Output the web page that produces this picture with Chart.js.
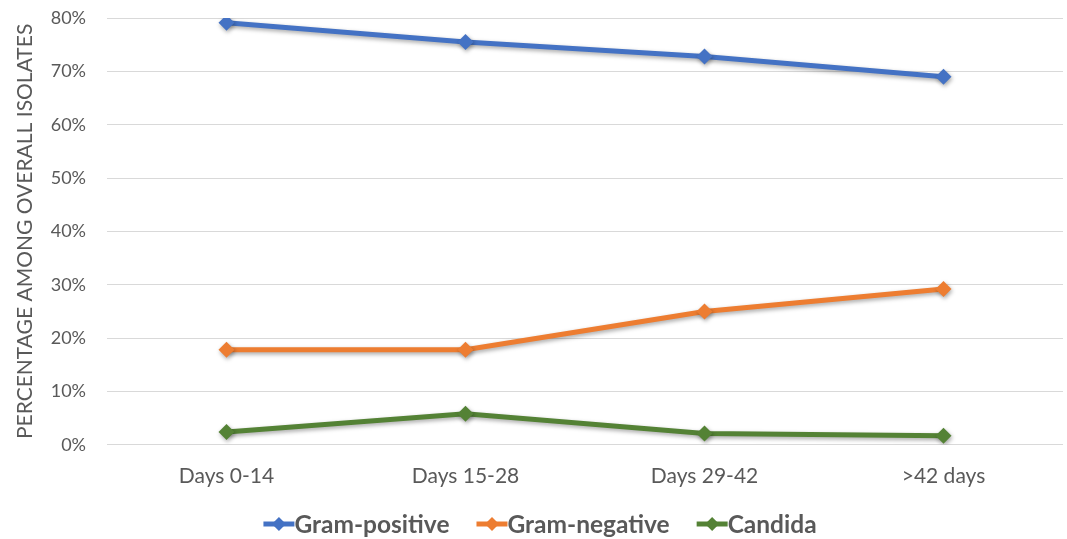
<!DOCTYPE html>
<html>
<head>
<meta charset="utf-8">
<script src="https://cdn.jsdelivr.net/npm/chart.js@4"></script>
<style>
  html, body { margin: 0; padding: 0; background: #fff; }
  canvas { display: block; }
</style>
</head>
<body>
<canvas id="chart" width="1067" height="539"></canvas>
<script>
const categories = ["Days 0-14", "Days 15-28", "Days 29-42", ">42 days"];
const gramPositive = [79.1, 75.5, 72.8, 69.0];
const gramNegative = [17.8, 17.8, 25.0, 29.2];
const candida = [2.4, 5.8, 2.1, 1.7];
const yTicks = [0, 10, 20, 30, 40, 50, 60, 70, 80];

const textColor = "#595959";
const font = "Lato, 'Open Sans', sans-serif";

/* soft shadow under the lines */
const shadowPlugin = {
    id: "shadow",
    beforeDatasetsDraw(chart) {
        const ctx = chart.ctx;
        ctx.save();
        ctx.shadowColor = "rgba(0,0,0,0.35)";
        ctx.shadowBlur = 4;
        ctx.shadowOffsetX = 1;
        ctx.shadowOffsetY = 2;
    },
    afterDatasetsDraw(chart) {
        chart.ctx.restore();
    }
};

/* legend like Excel: line+diamond glued to bold label */
const legendPlugin = {
    id: "excelLegend",
    afterDraw(chart) {
        const ctx = chart.ctx;
        const iconW = 31, gap = 27, cy = 524;
        ctx.save();
        ctx.font = "bold 24.5px " + font;
        ctx.textBaseline = "middle";
        const items = chart.data.datasets.map(ds => ({
            text: ds.label, color: ds.borderColor, w: ctx.measureText(ds.label).width
        }));
        const total = items.reduce((s, it) => s + iconW + it.w, 0) + gap * (items.length - 1);
        let x = 540 - total / 2;
        items.forEach(it => {
            ctx.strokeStyle = it.color;
            ctx.fillStyle = it.color;
            ctx.lineWidth = 5;
            ctx.beginPath(); ctx.moveTo(x, cy); ctx.lineTo(x + iconW, cy); ctx.stroke();
            const cx = x + iconW / 2;
            ctx.beginPath();
            ctx.moveTo(cx, cy - 7); ctx.lineTo(cx + 7, cy); ctx.lineTo(cx, cy + 7); ctx.lineTo(cx - 7, cy);
            ctx.closePath(); ctx.fill();
            ctx.fillStyle = textColor;
            ctx.fillText(it.text, x + iconW, cy + 1);
            x += iconW + it.w + gap;
        });
        ctx.restore();
    }
};

function series(label, data, color) {
    return {
        label: label,
        data: data,
        borderColor: color,
        backgroundColor: color,
        borderWidth: 5,
        pointStyle: "rectRot",
        pointRadius: 8,
        pointHoverRadius: 8,
        pointBorderWidth: 0,
        tension: 0
    };
}

new Chart(document.getElementById("chart"), {
    type: "line",
    data: {
        labels: categories,
        datasets: [
            series("Gram-positive", gramPositive, "#4472C4"),
            series("Gram-negative", gramNegative, "#ED7D31"),
            series("Candida", candida, "#548235")
        ]
    },
    plugins: [shadowPlugin, legendPlugin],
    options: {
        responsive: false,
        animation: false,
        devicePixelRatio: 1,
        layout: { autoPadding: false, padding: { left: 13, right: 4, top: 18, bottom: 39 } },
        plugins: {
            tooltip: { enabled: false },
            legend: { display: false }
        },
        scales: {
            x: {
                offset: true,
                grid: { display: false },
                border: { display: false },
                ticks: { color: textColor, font: { family: font, size: 21 }, padding: 11, maxRotation: 0 }
            },
            y: {
                min: 0,
                max: 80,
                afterBuildTicks(axis) { axis.ticks = yTicks.map(v => ({ value: v })); },
                afterFit(axis) {
                    axis.width = 94;
                    axis.paddingTop = 0;
                    axis.paddingBottom = 0;
                },
                grid: { color: "#d9d9d9", lineWidth: 1, drawTicks: false },
                border: { display: false },
                ticks: {
                    color: textColor,
                    font: { family: font, size: 18 },
                    padding: 21,
                    callback: v => v + "%"
                },
                title: {
                    display: true,
                    text: "PERCENTAGE AMONG OVERALL ISOLATES",
                    color: textColor,
                    font: { family: font, size: 21 },
                    padding: { top: 0, bottom: 12 }
                }
            }
        }
    }
});
</script>
</body>
</html>
